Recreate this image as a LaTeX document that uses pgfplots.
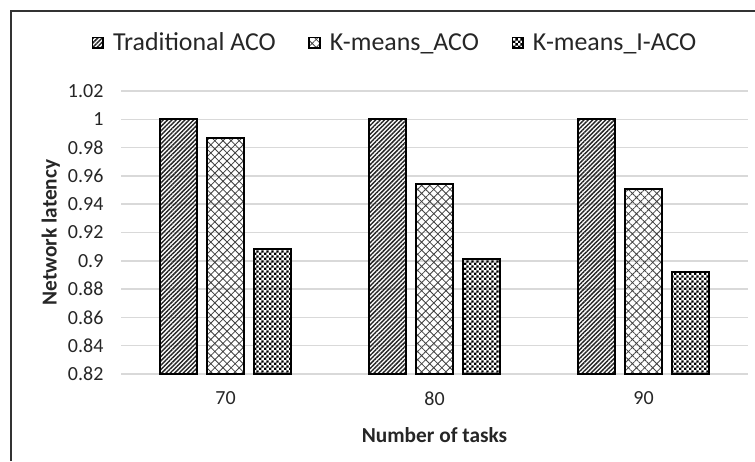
\documentclass[border=0pt]{standalone}
\usepackage{pgfplots}
\pgfplotsset{compat=1.18}
\usepackage{fontspec}
\setmainfont{Carlito}
\usetikzlibrary{patterns,patterns.meta}
\pgfdeclarepatternformonly{checker}{\pgfpointorigin}{\pgfqpoint{3.6pt}{3.6pt}}{\pgfqpoint{3.6pt}{3.6pt}}{%
  \pgfpathrectangle{\pgfpointorigin}{\pgfqpoint{1.8pt}{1.8pt}}%
  \pgfpathrectangle{\pgfqpoint{1.8pt}{1.8pt}}{\pgfqpoint{1.8pt}{1.8pt}}%
  \pgfusepath{fill}}
\definecolor{gridgray}{HTML}{D9D9D9}
\definecolor{txt}{HTML}{262626}
\begin{document}
\begin{tikzpicture}
\useasboundingbox (0,0) rectangle (566.25pt,345.75pt);
\fill[white] (0,0) rectangle (566.25pt,345.75pt);
\draw[line width=1.5pt, black!80] (8.25pt,0pt) -- (8.25pt,337.5pt) -- (570pt,337.5pt);
\begin{axis}[
  at={(90.75pt,65.25pt)}, anchor=south west,
  scale only axis, width=470.25pt, height=212.25pt,
  xmin=-0.5, xmax=2.5, ymin=0.82, ymax=1.02,
  ybar, bar width=27.75pt,
  xtick={0,1,2}, xticklabels={70,80,90},
  ytick={0.82,0.84,0.86,0.88,0.9,0.92,0.94,0.96,0.98,1,1.02},
  /pgf/number format/fixed, /pgf/number format/precision=2,
  /pgf/number format/assume math mode=true,
  axis line style={draw=none},
  major tick length=0pt,
  ymajorgrids, grid style={gridgray, line width=1.1pt},
  tick label style={font=\fontsize{15}{17}\selectfont, text=txt},
  yticklabel style={inner sep=0pt, anchor=east, xshift=-13pt},
  xticklabel style={inner sep=0pt, anchor=north, yshift=-13pt},
  xlabel={\textbf{Number of tasks}},
  ylabel={\textbf{Network latency}},
  label style={font=\fontsize{16}{19}\selectfont, text=txt},
  xlabel style={at={(axis description cs:0.5,-0.2155)}, anchor=center},
  ylabel style={at={(axis description cs:-0.112,0.5)}, anchor=center, rotate=0},
  legend columns=3,
  legend style={at={(axis description cs:0.437,1.17)}, anchor=center, draw=none, fill=none,
    font=\fontsize{19.4}{23}\selectfont, text=txt,
    nodes={inner sep=1.5pt},
    /tikz/column 1/.style={column sep=5.5pt},
    /tikz/column 3/.style={column sep=5.5pt},
    /tikz/column 5/.style={column sep=5.5pt},
    /tikz/column 2/.style={column sep=23pt},
    /tikz/column 4/.style={column sep=23pt}},
  legend image code/.code={\draw[#1, line width=1.1pt] (0pt,-4pt) rectangle (8pt,4pt);},
  clip=false,
]
\addplot[bar shift=-35.25pt, draw=black, line width=1.5pt, fill=white,
  pattern={Lines[angle=45, distance=2.3pt, line width=1.1pt]}, pattern color=black!85]
  coordinates {(0,1.000) (1,1.000) (2,1.000)};
\addplot[bar shift=0pt, draw=black, line width=1.5pt,
  pattern={Hatch[angle=45, distance=4.3pt, line width=0.6pt]}, pattern color=black!75]
  coordinates {(0,0.987) (1,0.954) (2,0.951)};
\addplot[bar shift=35.25pt, draw=black, line width=1.5pt,
  pattern=checker, pattern color=black]
  coordinates {(0,0.908) (1,0.901) (2,0.892)};
\legend{Traditional ACO, K-means\_ACO, K-means\_I-ACO}
\end{axis}
\end{tikzpicture}
\end{document}
